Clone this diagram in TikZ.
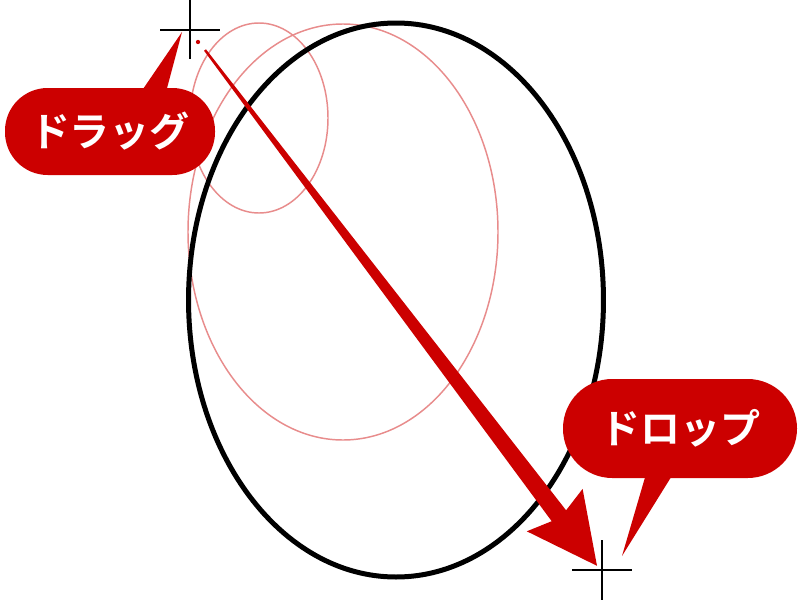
\documentclass[tikz,border=0pt]{standalone}
\usepackage{fontspec}
\newfontfamily\jp{Noto Sans CJK JP}[BoldFont={Noto Sans CJK JP Bold}]
\definecolor{calloutred}{RGB}{204,0,0}
\definecolor{ghostred}{RGB}{232,140,140}
\tikzset{
  pill/.style={fill=calloutred, text=white, font=\jp\bfseries\fontsize{30pt}{30pt}\selectfont, inner sep=0pt},
  tail/.style={fill=calloutred},
  crossline/.style={draw=black, line width=2pt},
  ghost/.style={draw=ghostred, line width=1.1pt},
  mainellipse/.style={draw=black, line width=3.75pt},
  dragarrow/.style={fill=calloutred}
}
\begin{document}
\begin{tikzpicture}[x=0.75pt,y=-0.75pt]
\useasboundingbox[fill=white] (0,0) rectangle (800,600);
% ghost ellipses
\draw[ghost] (259,118) ellipse [x radius=51.75pt, y radius=71.25pt];
\draw[ghost] (343,232) ellipse [x radius=116.25pt, y radius=156pt];
% main ellipse
\draw[mainellipse] (396,300) ellipse [x radius=155.6pt, y radius=207.75pt];
% drag arrow (tapered)
\fill[calloutred] (198,42) circle[radius=1.6pt];
\fill[dragarrow] (205.96,49.27) -- (566.1,510.3) -- (582.6,488.9) -- (597,565.8)
  -- (526.8,531.3) -- (551.7,521.2) -- (204.04,50.73) -- cycle;
% callouts
\node[pill, minimum width=157.5pt, minimum height=65.25pt, rounded corners=32pt] (drag) at (110,131.5) {ドラッグ};
\coordinate (dragtip) at (182,32);
\fill[tail] (141,92) -- (166,92) -- (dragtip) -- cycle;
\node[pill, minimum width=175.5pt, minimum height=74.25pt, rounded corners=37pt] (drop) at (680,428.5) {ドロップ};
\coordinate (droptip) at (622,556);
\fill[tail] (646,474) -- (673,474) -- (droptip) -- cycle;
% crosses
\coordinate (c1w) at (160,30); \coordinate (c1e) at (220,30);
\coordinate (c1n) at (190,0);  \coordinate (c1s) at (190,59);
\draw[crossline] (c1w) -- (c1e);
\draw[crossline] (c1n) -- (c1s);
\coordinate (c2w) at (572,570); \coordinate (c2e) at (632,570);
\coordinate (c2n) at (602,540); \coordinate (c2s) at (602,600);
\draw[crossline] (c2w) -- (c2e);
\draw[crossline] (c2n) -- (c2s);
\end{tikzpicture}
\end{document}
